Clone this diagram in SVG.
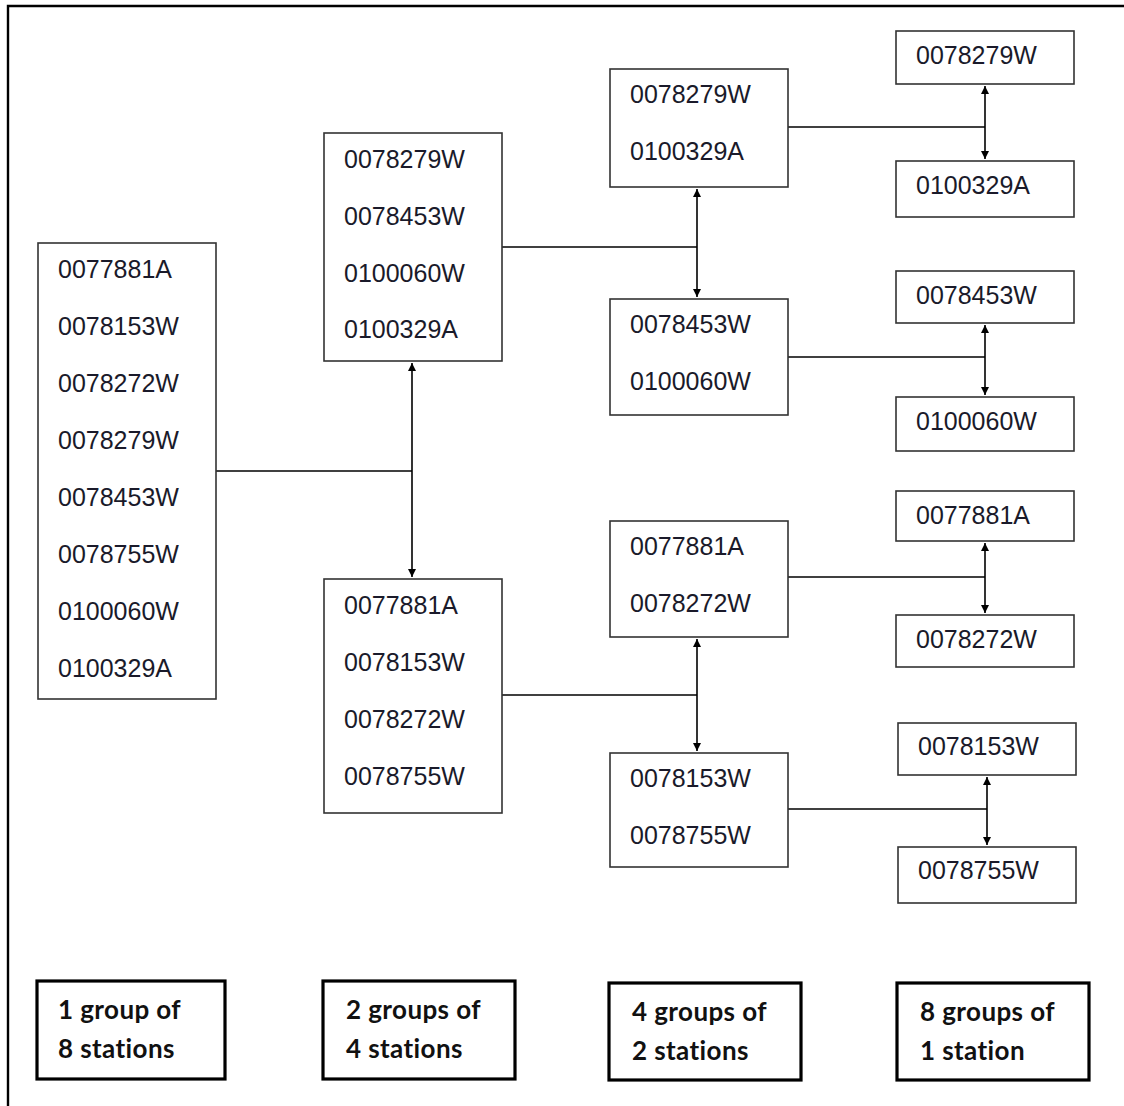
<svg xmlns="http://www.w3.org/2000/svg" width="1124" height="1106" viewBox="0 0 1124 1106">
<defs>
<style>
.box{fill:#fff;stroke:#333;stroke-width:1.6}
.lbox{fill:#fff;stroke:#000;stroke-width:3.2}
.t{font-family:"Liberation Sans",Arial,sans-serif;font-size:25px;fill:#1a1a2a}
.b{font-family:Lato,"Liberation Sans",sans-serif;font-weight:bold;font-size:26px;letter-spacing:0.4px;fill:#111}
.c{fill:none;stroke:#000;stroke-width:1.6}
</style>
<marker id="ah" viewBox="0 0 10 10" refX="10" refY="5" markerWidth="9" markerHeight="8" markerUnits="userSpaceOnUse" orient="auto-start-reverse">
<path d="M0,0 L10,5 L0,10 z" fill="#000"/>
</marker>
</defs>
<rect x="0" y="0" width="1124" height="1106" fill="#fff"/>
<path d="M8,1106 V6 H1124" fill="none" stroke="#000" stroke-width="2.4"/>

<g id="connectors">
<path class="c" d="M216,471 H412"/>
<path class="c" d="M412,363 V577" marker-start="url(#ah)" marker-end="url(#ah)"/>
<path class="c" d="M502,247 H697"/>
<path class="c" d="M697,189 V297" marker-start="url(#ah)" marker-end="url(#ah)"/>
<path class="c" d="M502,695 H697"/>
<path class="c" d="M697,639 V751" marker-start="url(#ah)" marker-end="url(#ah)"/>
<path class="c" d="M788,127 H985"/>
<path class="c" d="M985,86 V159" marker-start="url(#ah)" marker-end="url(#ah)"/>
<path class="c" d="M788,357 H985"/>
<path class="c" d="M985,325 V395" marker-start="url(#ah)" marker-end="url(#ah)"/>
<path class="c" d="M788,577 H985"/>
<path class="c" d="M985,543 V613" marker-start="url(#ah)" marker-end="url(#ah)"/>
<path class="c" d="M788,809 H987"/>
<path class="c" d="M987,777 V845" marker-start="url(#ah)" marker-end="url(#ah)"/>
</g>

<g id="n8">
<rect class="box" x="38" y="243" width="178" height="456"/>
<text class="t" x="58" y="278">0077881A</text>
<text class="t" x="58" y="335">0078153W</text>
<text class="t" x="58" y="392">0078272W</text>
<text class="t" x="58" y="449">0078279W</text>
<text class="t" x="58" y="506">0078453W</text>
<text class="t" x="58" y="563">0078755W</text>
<text class="t" x="58" y="620">0100060W</text>
<text class="t" x="58" y="677">0100329A</text>
</g>

<g id="n4a">
<rect class="box" x="324" y="133" width="178" height="228"/>
<text class="t" x="344" y="168">0078279W</text>
<text class="t" x="344" y="225">0078453W</text>
<text class="t" x="344" y="282">0100060W</text>
<text class="t" x="344" y="338">0100329A</text>
</g>
<g id="n4b">
<rect class="box" x="324" y="579" width="178" height="234"/>
<text class="t" x="344" y="614">0077881A</text>
<text class="t" x="344" y="671">0078153W</text>
<text class="t" x="344" y="728">0078272W</text>
<text class="t" x="344" y="785">0078755W</text>
</g>

<g id="n2a">
<rect class="box" x="610" y="69" width="178" height="118"/>
<text class="t" x="630" y="103">0078279W</text>
<text class="t" x="630" y="160">0100329A</text>
</g>
<g id="n2b">
<rect class="box" x="610" y="299" width="178" height="116"/>
<text class="t" x="630" y="333">0078453W</text>
<text class="t" x="630" y="390">0100060W</text>
</g>
<g id="n2c">
<rect class="box" x="610" y="521" width="178" height="116"/>
<text class="t" x="630" y="555">0077881A</text>
<text class="t" x="630" y="612">0078272W</text>
</g>
<g id="n2d">
<rect class="box" x="610" y="753" width="178" height="114"/>
<text class="t" x="630" y="787">0078153W</text>
<text class="t" x="630" y="844">0078755W</text>
</g>

<g id="n1a"><rect class="box" x="896" y="31" width="178" height="53"/><text class="t" x="916" y="64">0078279W</text></g>
<g id="n1b"><rect class="box" x="896" y="161" width="178" height="56"/><text class="t" x="916" y="194">0100329A</text></g>
<g id="n1c"><rect class="box" x="896" y="271" width="178" height="52"/><text class="t" x="916" y="304">0078453W</text></g>
<g id="n1d"><rect class="box" x="896" y="397" width="178" height="54"/><text class="t" x="916" y="430">0100060W</text></g>
<g id="n1e"><rect class="box" x="896" y="491" width="178" height="50"/><text class="t" x="916" y="524">0077881A</text></g>
<g id="n1f"><rect class="box" x="896" y="615" width="178" height="52"/><text class="t" x="916" y="648">0078272W</text></g>
<g id="n1g"><rect class="box" x="898" y="723" width="178" height="52"/><text class="t" x="918" y="755">0078153W</text></g>
<g id="n1h"><rect class="box" x="898" y="847" width="178" height="56"/><text class="t" x="918" y="879">0078755W</text></g>

<g id="l1"><rect class="lbox" x="37" y="981" width="188" height="98"/>
<text class="b" x="58" y="1019">1 group of</text><text class="b" x="58" y="1058">8 stations</text></g>
<g id="l2"><rect class="lbox" x="323" y="981" width="192" height="98"/>
<text class="b" x="346" y="1019">2 groups of</text><text class="b" x="346" y="1058">4 stations</text></g>
<g id="l3"><rect class="lbox" x="609" y="983" width="192" height="97"/>
<text class="b" x="632" y="1021">4 groups of</text><text class="b" x="632" y="1060">2 stations</text></g>
<g id="l4"><rect class="lbox" x="897" y="983" width="192" height="97"/>
<text class="b" x="920" y="1021">8 groups of</text><text class="b" x="920" y="1060">1 station</text></g>
</svg>
